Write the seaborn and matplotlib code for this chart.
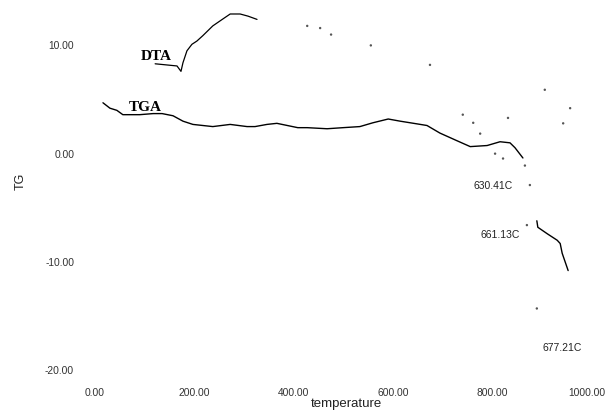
import matplotlib
matplotlib.use("Agg")
import matplotlib.pyplot as plt
import matplotlib.transforms as mtransforms
import seaborn as sns
import pandas as pd

# ---- data (temperature in C, TG units) ----
tga_temp = [16, 30, 44, 56, 90, 117, 135, 157, 177, 197, 237, 272, 306, 322, 346, 366,
            408, 427, 467, 499, 533, 559, 590, 614, 648, 668, 694, 728, 755, 789, 815,
            835, 845, 861]
tga_val = [4.7, 4.2, 4.0, 3.6, 3.6, 3.7, 3.7, 3.5, 3.0, 2.7, 2.5, 2.7, 2.5, 2.5, 2.7, 2.8,
           2.4, 2.4, 2.3, 2.4, 2.5, 2.85, 3.2, 3.0, 2.75, 2.6, 1.9, 1.2, 0.65, 0.75, 1.1,
           1.0, 0.55, -0.4]

tga_tail_temp = [889, 891, 910, 930, 936, 940, 946, 952]
tga_tail_val = [-6.2, -6.8, -7.4, -8.0, -8.3, -9.2, -10.0, -10.8]

dta_temp = [121, 165, 173, 177, 185, 195, 205, 217, 237, 256, 272, 292, 308, 326]
dta_val = [8.3, 8.1, 7.6, 8.4, 9.5, 10.1, 10.4, 10.9, 11.8, 12.4, 12.9, 12.9, 12.7, 12.4]

# faded (barely printed) points of the scanned trace
faint_temp = [427, 453, 475, 555, 674, 740, 761, 775, 805, 821, 831, 865, 869, 875, 889,
              905, 942, 956]
faint_val = [11.8, 11.6, 11.0, 10.0, 8.2, 3.6, 2.85, 1.85, 0.0, -0.45, 3.3, -1.1, -6.6,
             -2.9, -14.3, 5.9, 2.8, 4.2]

x_ticks = [0, 200, 400, 600, 800, 1000]
y_ticks = [-20, -10, 0, 10]

curve_labels = ["DTA", "TGA"]
curve_label_pos = [(123, 9.0), (101, 4.25)]

peak_labels = ["630.41C", "661.13C", "677.21C"]
peak_label_pos = [(801, -2.95), (815, -7.55), (940, -17.95)]

# ---- figure ----
sns.set_theme(style="white")
plt.rcParams["font.family"] = ["Liberation Sans", "DejaVu Sans"]

fig = plt.figure(figsize=(6.07, 4.13), dpi=100)
ax = fig.add_axes([95 / 607, 32 / 413, 497 / 607, 380 / 413])

tga = pd.DataFrame({"temperature": tga_temp, "TG": tga_val})
tga_tail = pd.DataFrame({"temperature": tga_tail_temp, "TG": tga_tail_val})
dta = pd.DataFrame({"temperature": dta_temp, "TG": dta_val})
faint = pd.DataFrame({"temperature": faint_temp, "TG": faint_val})

sns.lineplot(data=tga, x="temperature", y="TG", sort=False, color="black", lw=1.0, ax=ax)
sns.lineplot(data=tga_tail, x="temperature", y="TG", sort=False, color="black", lw=1.0, ax=ax)
sns.lineplot(data=dta, x="temperature", y="TG", sort=False, color="black", lw=0.9, ax=ax)
sns.scatterplot(data=faint, x="temperature", y="TG", color="#555555", s=3,
                edgecolor="none", ax=ax)

ax.set_xlim(0, 1000)
ax.set_ylim(-21, 14.1)
ax.set_xticks(x_ticks)
ax.set_xticklabels([f"{v:.2f}" for v in x_ticks])
ax.set_yticks(y_ticks)
ax.set_yticklabels([f"{v:.2f}" for v in y_ticks])
ax.tick_params(axis="x", length=0, pad=5, labelsize=7.4, labelcolor="#333333")
ax.tick_params(axis="y", length=0, pad=15, labelsize=7.4, labelcolor="#333333")
for s in ax.spines.values():
    s.set_visible(False)
ax.grid(False)

# keep the last x tick label inside the figure edge
last = ax.get_xticklabels()[-1]
last.set_transform(last.get_transform() +
                   mtransforms.ScaledTranslation(-5 / 100, 0, fig.dpi_scale_trans))

ax.set_xlabel("temperature", fontsize=9.5, color="#222222")
ax.set_ylabel("TG", fontsize=9, color="#222222")
ax.xaxis.set_label_coords((346 - 95) / 497, (381 - 398) / 380)
ax.yaxis.set_label_coords((27 - 95) / 497, (381 - 181) / 380)

for txt, (x, y) in zip(curve_labels, curve_label_pos):
    ax.text(x, y, txt, fontsize=11, fontweight="bold", ha="center", va="center",
            family=["Liberation Serif", "DejaVu Serif"], color="black")

for txt, (x, y) in zip(peak_labels, peak_label_pos):
    ax.text(x, y, txt, fontsize=7.5, ha="center", va="center", color="#222222")

fig.savefig("out.png", dpi=100)
